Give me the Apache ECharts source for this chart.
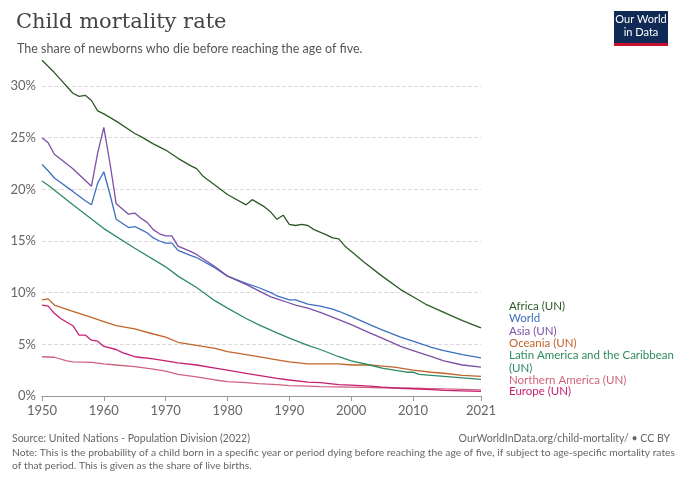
<!DOCTYPE html>
<html><head><meta charset="utf-8">
<script src="https://cdn.jsdelivr.net/npm/echarts@6/dist/echarts.min.js"></script>
<style>body{margin:0}#c{width:680px;height:480px}</style></head>
<body><div id="c"></div>
<script>
const africa=[[1950,32.5],[1952,31.3],[1955,29.3],[1956,29],[1957,29.1],[1958,28.6],[1959,27.6],[1960,27.3],[1962,26.6],[1965,25.4],[1966,25.1],[1968,24.4],[1970,23.8],[1972,23],[1974,22.3],[1975,22],[1976,21.3],[1978,20.4],[1980,19.5],[1983,18.5],[1984,19],[1986,18.3],[1987,17.8],[1988,17.1],[1989,17.5],[1990,16.6],[1991,16.5],[1992,16.6],[1993,16.5],[1994,16.1],[1996,15.6],[1997,15.3],[1998,15.2],[1999,14.5],[2000,14],[2002,13],[2005,11.6],[2008,10.3],[2010,9.6],[2012,8.9],[2015,8.1],[2018,7.3],[2021,6.6]];
const world=[[1950,22.4],[1951,21.8],[1952,21.1],[1955,19.8],[1957,18.9],[1958,18.5],[1959,20.6],[1960,21.7],[1961,19.5],[1962,17.1],[1964,16.3],[1965,16.4],[1966,16.1],[1967,15.8],[1968,15.3],[1969,15],[1970,14.8],[1971,14.8],[1972,14.1],[1974,13.6],[1975,13.4],[1978,12.4],[1980,11.6],[1983,10.9],[1985,10.5],[1987,10],[1988,9.7],[1990,9.3],[1991,9.3],[1993,8.9],[1995,8.7],[1997,8.4],[1998,8.2],[2000,7.7],[2003,6.9],[2005,6.4],[2008,5.7],[2010,5.3],[2013,4.7],[2015,4.4],[2018,4],[2021,3.7]];
const asia=[[1950,25],[1951,24.5],[1952,23.4],[1955,22],[1958,20.3],[1959,23.5],[1960,26],[1961,22.5],[1962,18.6],[1964,17.6],[1965,17.7],[1966,17.2],[1967,16.8],[1968,16.1],[1969,15.7],[1970,15.5],[1971,15.5],[1972,14.5],[1974,14],[1975,13.7],[1978,12.5],[1980,11.6],[1983,10.8],[1985,10.2],[1987,9.6],[1988,9.4],[1990,9],[1991,8.8],[1993,8.5],[1995,8.1],[1998,7.4],[2000,6.9],[2003,6.1],[2005,5.6],[2008,4.8],[2010,4.4],[2013,3.8],[2015,3.4],[2018,3],[2021,2.8]];
const oceania=[[1950,9.3],[1951,9.4],[1952,8.8],[1955,8.2],[1958,7.6],[1960,7.2],[1962,6.8],[1965,6.5],[1968,6],[1970,5.7],[1972,5.2],[1975,4.9],[1978,4.6],[1980,4.3],[1983,4],[1985,3.8],[1988,3.5],[1990,3.3],[1993,3.1],[1995,3.1],[1998,3.1],[2000,3],[2003,3],[2005,2.9],[2007,2.8],[2010,2.5],[2013,2.3],[2015,2.2],[2018,2],[2021,1.9]];
const latam=[[1950,20.8],[1951,20.4],[1955,18.5],[1960,16.2],[1965,14.3],[1970,12.5],[1972,11.6],[1975,10.5],[1978,9.2],[1980,8.5],[1983,7.5],[1985,6.9],[1988,6.1],[1990,5.6],[1993,4.9],[1995,4.5],[1998,3.8],[2000,3.4],[2003,3],[2005,2.7],[2008,2.4],[2009,2.3],[2010,2.3],[2011,2.1],[2013,2],[2015,1.9],[2018,1.75],[2021,1.6]];
const namerica=[[1950,3.8],[1952,3.75],[1954,3.4],[1955,3.3],[1958,3.25],[1960,3.1],[1962,3],[1965,2.85],[1968,2.6],[1970,2.4],[1972,2.1],[1975,1.85],[1978,1.55],[1980,1.4],[1983,1.3],[1985,1.2],[1988,1.1],[1990,1],[1993,0.95],[1995,0.9],[2000,0.85],[2005,0.8],[2010,0.75],[2015,0.68],[2021,0.6]];
const europe=[[1950,8.8],[1951,8.7],[1952,8],[1953,7.5],[1955,6.8],[1956,5.9],[1957,5.9],[1958,5.4],[1959,5.3],[1960,4.8],[1962,4.5],[1963,4.2],[1965,3.8],[1968,3.6],[1970,3.4],[1972,3.2],[1975,3],[1978,2.7],[1980,2.5],[1983,2.2],[1985,2],[1988,1.7],[1990,1.55],[1993,1.35],[1995,1.3],[1998,1.1],[2000,1.05],[2003,0.95],[2005,0.85],[2008,0.75],[2010,0.7],[2013,0.62],[2015,0.55],[2018,0.5],[2021,0.45]];
const xTicks=[1950,1960,1970,1980,1990,2000,2010,2021];
const seriesDefs=[
 ['Africa (UN)',africa,'#2d5a27',-22],
 ['World',world,'#3c6fbf',-39],
 ['Asia (UN)',asia,'#7b4fa6',-36],
 ['Oceania (UN)',oceania,'#c0642a',-33],
 ['Latin America and the Caribbean\n(UN)',latam,'#2e8a63',-18],
 ['Northern America (UN)',namerica,'#d0637e',-10],
 ['Europe (UN)',europe,'#c61f72',0]
];
const ch=echarts.init(document.getElementById('c'));
ch.setOption({
 animation:false,
 title:[{text:'Child mortality rate',left:11,top:7,textStyle:{fontFamily:'DejaVu Serif',fontWeight:'normal',fontSize:21,color:'#444'}},
  {text:'The share of newborns who die before reaching the age of five.',left:12,top:37,textStyle:{fontFamily:'Lato',fontWeight:'normal',fontSize:12.5,color:'#555'}}],
 graphic:[
  {type:'rect',shape:{x:614,y:11,width:54,height:35},style:{fill:'#0f2a55'}},
  {type:'rect',shape:{x:614,y:43,width:54,height:3},style:{fill:'#c8102e'}},
  {type:'text',style:{x:641,y:13,text:'Our World\nin Data',fill:'#fff',font:'11px Lato',align:'center',lineHeight:13}},
  {type:'text',style:{x:12,y:433,text:'Source: United Nations - Population Division (2022)',fill:'#666',font:'10.5px Lato'}},
  {type:'text',style:{x:670,y:433,text:'OurWorldInData.org/child-mortality/ • CC BY',fill:'#666',font:'10.5px Lato',align:'right'}},
  {type:'text',style:{x:12,y:446,text:'Note: This is the probability of a child born in a specific year or period dying before reaching the age of five, if subject to age-specific mortality rates\nof that period. This is given as the share of live births.',fill:'#666',font:'10.3px Lato',lineHeight:13}}
 ],
 grid:{left:42,right:199,top:86,bottom:84},
 xAxis:{type:'value',min:1950,max:2021,interval:1,
  axisLine:{lineStyle:{color:'#999'}},axisTick:{customValues:xTicks,lineStyle:{color:'#999'}},
  axisLabel:{customValues:xTicks,formatter:v=>String(v),color:'#666',fontFamily:'Lato',fontSize:13,margin:8},splitLine:{show:false}},
 yAxis:{type:'value',min:0,max:30,interval:5,
  axisLabel:{formatter:'{value}%',color:'#666',fontFamily:'Lato',fontSize:13,margin:6},
  splitLine:{lineStyle:{type:'dashed',color:'#ddd'}},axisLine:{show:false},axisTick:{show:false}},
 series:seriesDefs.map(([n,d,c,o])=>({name:n,type:'line',data:d,symbol:'none',clip:false,
  lineStyle:{color:c,width:1.3},itemStyle:{color:c},
  endLabel:{show:true,formatter:n,color:c,fontFamily:'Lato',fontSize:11.5,distance:28,offset:[0,o],lineHeight:13}}))
});
</script></body></html>
